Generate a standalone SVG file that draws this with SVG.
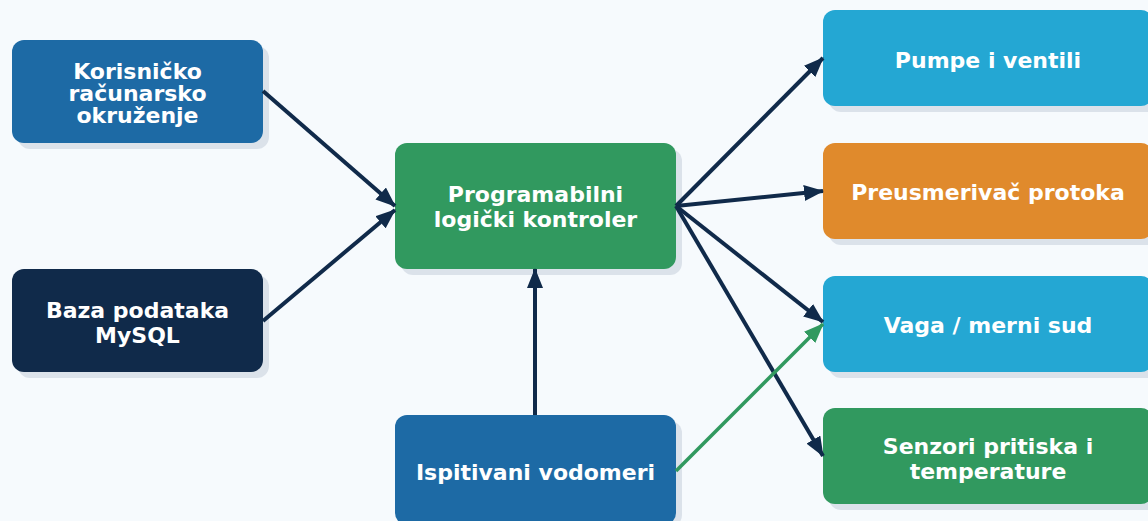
<svg xmlns="http://www.w3.org/2000/svg" width="1148" height="521" viewBox="0 0 1148 521">
<style>
.bg{fill:#f6fafd}
.sh{fill:#dbe2ea}
.t{font-family:"DejaVu Sans",sans-serif;font-weight:bold;font-size:22px;fill:#ffffff;text-anchor:middle}
.c{fill:none;stroke:#102a4a;stroke-width:4}
.g{fill:none;stroke:#31995f;stroke-width:3.5}
</style>
<defs>
<marker id="ad" markerUnits="userSpaceOnUse" markerWidth="20" markerHeight="16" refX="19" refY="8" orient="auto"><path d="M0,0 L20,8 L0,16 Z" fill="#102a4a"/></marker>
<marker id="ag" markerUnits="userSpaceOnUse" markerWidth="20" markerHeight="16" refX="19" refY="8" orient="auto"><path d="M0,0 L20,8 L0,16 Z" fill="#31995f"/></marker>
</defs>
<rect class="bg" x="0" y="0" width="1148" height="521"/>
<g id="korisnicko">
<rect class="sh" x="18" y="46" width="251" height="103" rx="12"/>
<rect x="12" y="40" width="251" height="103" rx="12" fill="#1d6aa5"/>
<text class="t" x="137.5" y="79">Korisničko</text>
<text class="t" x="137.5" y="101">računarsko</text>
<text class="t" x="137.5" y="123">okruženje</text>
</g>
<g id="baza">
<rect class="sh" x="18" y="275" width="251" height="103" rx="12"/>
<rect x="12" y="269" width="251" height="103" rx="12" fill="#102a4a"/>
<text class="t" x="137.5" y="318">Baza podataka</text>
<text class="t" x="137.5" y="343">MySQL</text>
</g>
<g id="plc">
<rect class="sh" x="401" y="149" width="281" height="126" rx="12"/>
<rect x="395" y="143" width="281" height="126" rx="12" fill="#31995f"/>
<text class="t" x="535.5" y="202">Programabilni</text>
<text class="t" x="535.5" y="227">logički kontroler</text>
</g>
<g id="ispitivani">
<rect class="sh" x="401" y="421" width="281" height="106" rx="12"/>
<rect x="395" y="415" width="281" height="110" rx="12" fill="#1d6aa5"/>
<text class="t" x="535.5" y="480">Ispitivani vodomeri</text>
</g>
<g id="pumpe">
<rect class="sh" x="829" y="16" width="330" height="96" rx="12"/>
<rect x="823" y="10" width="330" height="96" rx="12" fill="#24a7d3"/>
<text class="t" x="988" y="68">Pumpe i ventili</text>
</g>
<g id="preusmerivac">
<rect class="sh" x="829" y="149" width="330" height="96" rx="12"/>
<rect x="823" y="143" width="330" height="96" rx="12" fill="#e08a2c"/>
<text class="t" x="988" y="200">Preusmerivač protoka</text>
</g>
<g id="vaga">
<rect class="sh" x="829" y="282" width="330" height="96" rx="12"/>
<rect x="823" y="276" width="330" height="96" rx="12" fill="#24a7d3"/>
<text class="t" x="988" y="333">Vaga / merni sud</text>
</g>
<g id="senzori">
<rect class="sh" x="829" y="414" width="330" height="96" rx="12"/>
<rect x="823" y="408" width="330" height="96" rx="12" fill="#31995f"/>
<text class="t" x="988" y="454">Senzori pritiska i</text>
<text class="t" x="988" y="479">temperature</text>
</g>
<g id="connectors">
<line class="c" x1="263" y1="91" x2="395" y2="206" marker-end="url(#ad)"/>
<line class="c" x1="263" y1="321" x2="395" y2="210" marker-end="url(#ad)"/>
<line class="c" x1="535" y1="415" x2="535" y2="269" marker-end="url(#ad)"/>
<line class="c" x1="676" y1="206" x2="823" y2="58" marker-end="url(#ad)"/>
<line class="c" x1="676" y1="206" x2="823" y2="191" marker-end="url(#ad)"/>
<line class="c" x1="676" y1="206" x2="823" y2="322" marker-end="url(#ad)"/>
<line class="c" x1="676" y1="206" x2="823" y2="456" marker-end="url(#ad)"/>
<line class="g" x1="676" y1="471" x2="823" y2="324" marker-end="url(#ag)"/>
</g>
</svg>
